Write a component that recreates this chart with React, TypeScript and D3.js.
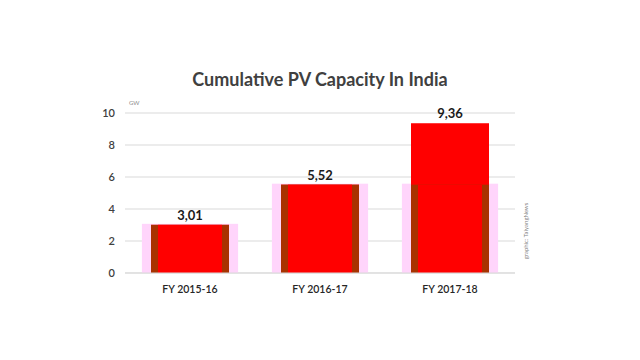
import React from "react";
import * as d3 from "d3";

const categories = ["FY 2015-16", "FY 2016-17", "FY 2017-18"];
const cumulative = [3.01, 5.52, 9.36];
const previous = [3.01, 5.52, 5.52];
const labels = ["3,01", "5,52", "9,36"];
const yTicks = [0, 2, 4, 6, 8, 10];

const W = 640, H = 360;
const FONT = "Lato, 'Open Sans', sans-serif";

export default function App() {
  const x = d3.scaleBand<string>().domain(categories).range([125, 515]).paddingInner(0).paddingOuter(0);
  const y = d3.scaleLinear().domain([0, 10]).range([273, 113]);
  const step = x.bandwidth();
  const barW = step * 0.6;
  const pinkW = step * 0.74;
  const innerW = barW - 14;

  return (
    <svg width={W} height={H} style={{ position: "absolute", left: 0, top: 0, background: "#fff" }}>
      <rect width={W} height={H} fill="#fff" />
      <text x={320} y={86} textAnchor="middle" fontFamily={FONT} fontSize={18} fontWeight={700} fill="#404040">
        Cumulative PV Capacity In India
      </text>
      <text x={129} y={105} fontFamily={FONT} fontSize={6} fill="#8c8c8c">GW</text>
      {yTicks.map((t) => (
        <g key={t}>
          <line x1={125} x2={515} y1={y(t)} y2={y(t)} stroke="#d9d9d9" strokeWidth={1} />
          <text x={115} y={y(t) + 4} textAnchor="end" fontFamily={FONT} fontSize={11} fontWeight={600} fill="#404040">{t}</text>
        </g>
      ))}
      {categories.map((c, i) => {
        const cx = (x(c) as number) + step / 2;
        return (
          <g key={c}>
            <rect x={cx - pinkW / 2} y={y(previous[i]) - 1} width={pinkW} height={y(0) - y(previous[i]) + 1} fill="#ffd5fb" />
            <rect x={cx - barW / 2} y={y(cumulative[i])} width={barW} height={y(0) - y(cumulative[i])} fill="#ff0000" />
            <rect x={cx - barW / 2} y={y(previous[i])} width={barW} height={y(0) - y(previous[i])} fill="#a83200" />
            <rect x={cx - innerW / 2} y={y(previous[i])} width={innerW} height={y(0) - y(previous[i])} fill="#ff0000" />
            <text x={cx} y={y(cumulative[i]) - 5} textAnchor="middle" fontFamily={FONT} fontSize={13} fontWeight={700} fill="#1a1a1a">
              {labels[i]}
            </text>
            <text x={cx} y={293} textAnchor="middle" fontFamily={FONT} fontSize={10.5} fontWeight={600} fill="#262626">{c}</text>
          </g>
        );
      })}
      <line x1={125} x2={515} y1={y(0)} y2={y(0)} stroke="#d9d9d9" strokeWidth={1} />
      <text transform="translate(528,231) rotate(-90)" textAnchor="middle" fontFamily={FONT} fontSize={6} fill="#7f7f7f">
        graphic: TaiyangNews
      </text>
    </svg>
  );
}
